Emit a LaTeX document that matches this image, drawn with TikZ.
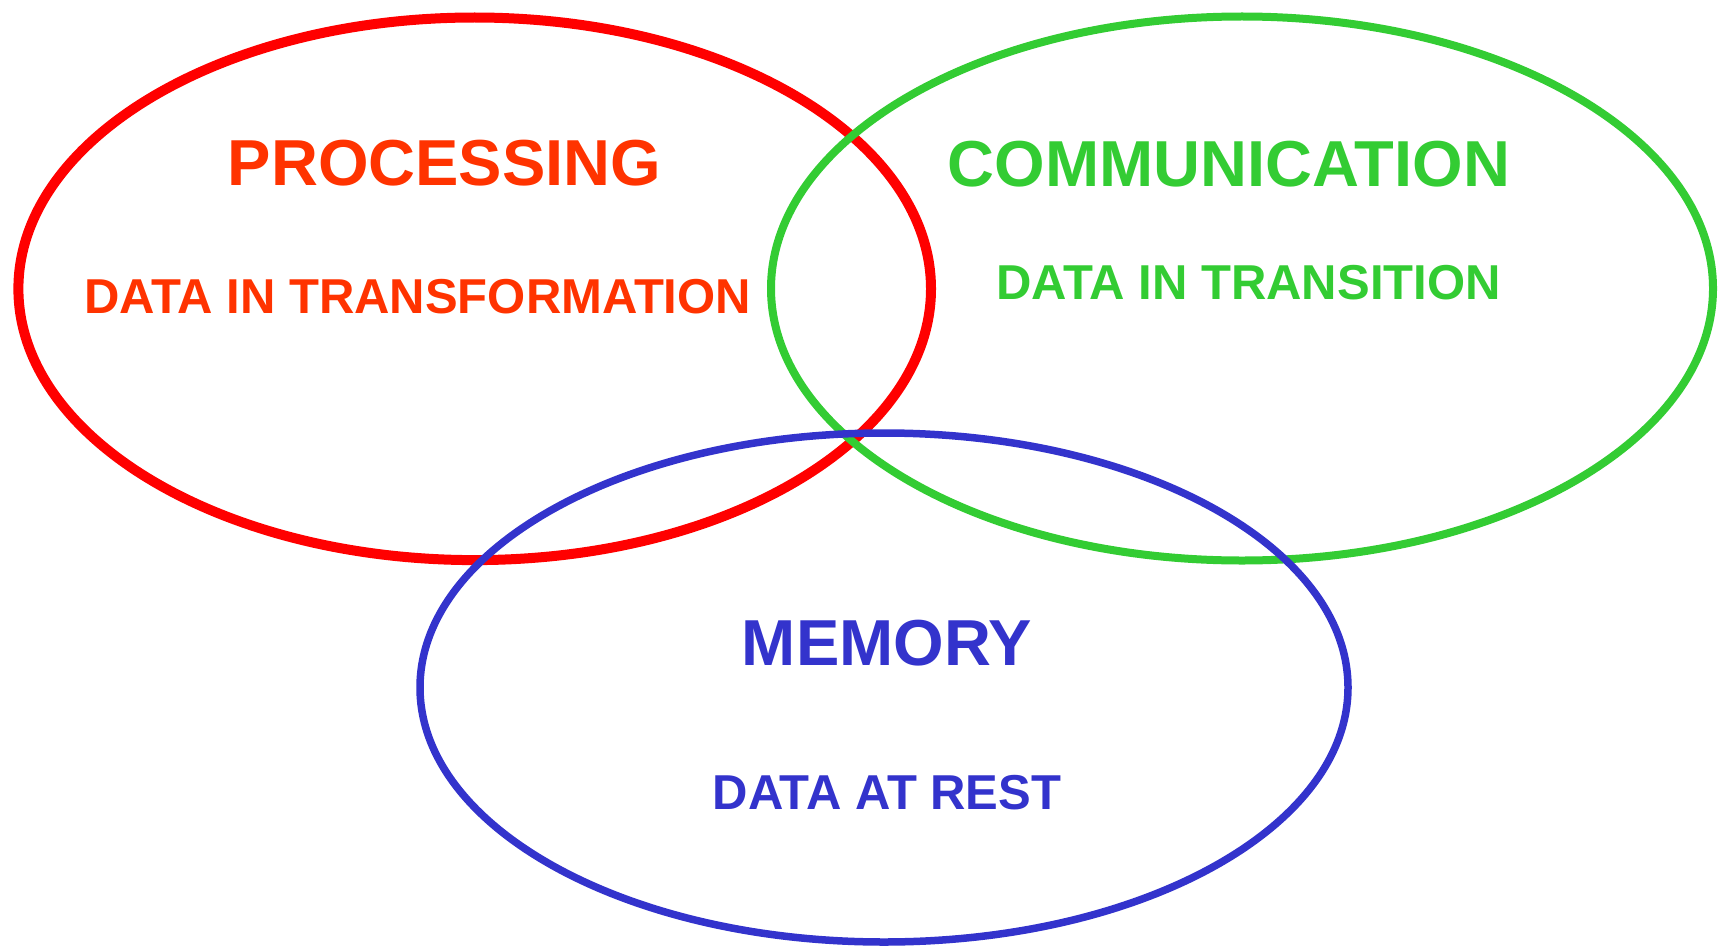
\documentclass[tikz,border=0pt]{standalone}
\usepackage{fontspec}
\setmainfont{Liberation Sans}
\definecolor{procred}{HTML}{FF0000}
\definecolor{proctext}{HTML}{FF3300}
\definecolor{commgreen}{HTML}{33CC33}
\definecolor{memblue}{HTML}{3333CC}
\tikzset{
  title/.style={anchor=base, inner sep=0pt, font=\fontsize{65}{65}\selectfont\bfseries},
  subtitle/.style={anchor=base, inner sep=0pt, font=\fontsize{49}{49}\selectfont\bfseries},
}
\begin{document}
\begin{tikzpicture}[x=1pt, y=-1pt]
  \useasboundingbox (0,0) rectangle (1723,947);
  % the three overlapping sets
  \draw[procred, line width=10pt] (474.7,288.8) ellipse [x radius=456.3pt, y radius=271.3pt];
  \draw[commgreen, line width=8pt] (1242,288.5) ellipse [x radius=471pt, y radius=272pt];
  \draw[memblue, line width=7.5pt] (884,687.5) ellipse [x radius=464pt, y radius=254.5pt];
  % labels
  \node[title, text=proctext] (proc) at (444.5,185) {PROCESSING};
  \node[subtitle, text=proctext] (procsub) at (417.6,313.5) {DATA IN TRANSFORMATION};
  \node[title, text=commgreen] (comm) at (1229,186) {COMMUNICATION};
  \node[subtitle, text=commgreen] (commsub) at (1248.5,299) {DATA IN TRANSITION};
  \node[title, text=memblue] (mem) at (887,665) {MEMORY};
  \node[subtitle, text=memblue] (memsub) at (887,809.5) {DATA AT REST};
\end{tikzpicture}
\end{document}
